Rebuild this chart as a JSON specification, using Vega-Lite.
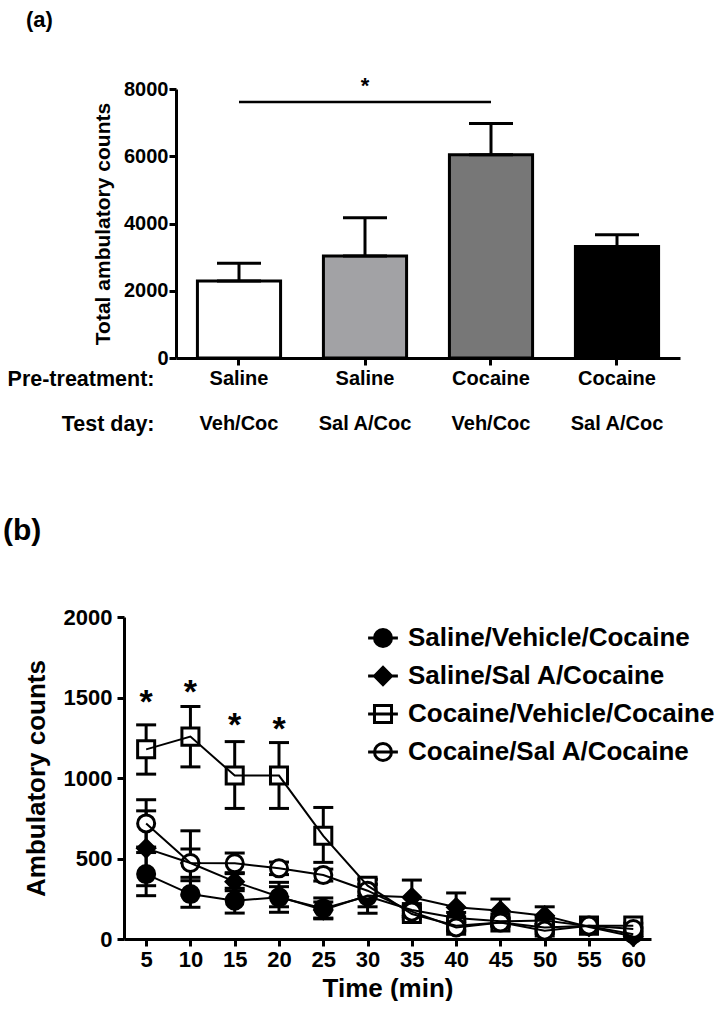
{
  "$schema": "https://vega.github.io/schema/vega-lite/v6.json",
  "background": "white",
  "padding": {"left": 3, "top": 8, "right": 0, "bottom": 0},
  "config": {
    "font": "Liberation Sans",
    "view": {"stroke": null},
    "axis": {"labelFont": "Liberation Sans", "titleFont": "Liberation Sans", "labelFontWeight": "bold", "titleFontWeight": "bold", "labelColor": "black", "titleColor": "black", "domainColor": "black", "tickColor": "black", "domainWidth": 3, "tickWidth": 3, "tickSize": 7, "grid": false},
    "legend": {"labelFont": "Liberation Sans"},
    "text": {"font": "Liberation Sans"}
  },
  "datasets": {
    "bars": [
      {"group": "Saline|Veh/Coc", "mean": 2290, "hi": 2820},
      {"group": "Saline|Sal A/Coc", "mean": 3031, "hi": 4174},
      {"group": "Cocaine|Veh/Coc", "mean": 6042, "hi": 6976},
      {"group": "Cocaine|Sal A/Coc", "mean": 3319, "hi": 3667}
    ],
    "sig": [
      {"from": "Saline|Veh/Coc", "to": "Cocaine|Veh/Coc", "level": 7612, "mid": "Saline|Sal A/Coc", "star": 8250, "label": "*"}
    ],
    "series": [
      {"series": "Saline/Vehicle/Cocaine", "time": 5, "mean": 403, "lo": 269, "hi": 537},
      {"series": "Saline/Vehicle/Cocaine", "time": 10, "mean": 279, "lo": 197, "hi": 362},
      {"series": "Saline/Vehicle/Cocaine", "time": 15, "mean": 238, "lo": 161, "hi": 315},
      {"series": "Saline/Vehicle/Cocaine", "time": 20, "mean": 259, "lo": 166, "hi": 352},
      {"series": "Saline/Vehicle/Cocaine", "time": 25, "mean": 190, "lo": 125, "hi": 255},
      {"series": "Saline/Vehicle/Cocaine", "time": 30, "mean": 265, "lo": 160, "hi": 370},
      {"series": "Saline/Vehicle/Cocaine", "time": 35, "mean": 180, "lo": 140, "hi": 220},
      {"series": "Saline/Vehicle/Cocaine", "time": 40, "mean": 130, "lo": 95, "hi": 165},
      {"series": "Saline/Vehicle/Cocaine", "time": 45, "mean": 110, "lo": 85, "hi": 135},
      {"series": "Saline/Vehicle/Cocaine", "time": 50, "mean": 115, "lo": 90, "hi": 140},
      {"series": "Saline/Vehicle/Cocaine", "time": 55, "mean": 80, "lo": 65, "hi": 95},
      {"series": "Saline/Vehicle/Cocaine", "time": 60, "mean": 30, "lo": 15, "hi": 45},
      {"series": "Saline/Sal A/Cocaine", "time": 5, "mean": 563, "lo": 331, "hi": 796},
      {"series": "Saline/Sal A/Cocaine", "time": 10, "mean": 472, "lo": 272, "hi": 672},
      {"series": "Saline/Sal A/Cocaine", "time": 15, "mean": 356, "lo": 300, "hi": 412},
      {"series": "Saline/Sal A/Cocaine", "time": 20, "mean": 262, "lo": 200, "hi": 325},
      {"series": "Saline/Sal A/Cocaine", "time": 25, "mean": 180, "lo": 130, "hi": 230},
      {"series": "Saline/Sal A/Cocaine", "time": 30, "mean": 270, "lo": 200, "hi": 340},
      {"series": "Saline/Sal A/Cocaine", "time": 35, "mean": 259, "lo": 152, "hi": 366},
      {"series": "Saline/Sal A/Cocaine", "time": 40, "mean": 197, "lo": 108, "hi": 286},
      {"series": "Saline/Sal A/Cocaine", "time": 45, "mean": 176, "lo": 104, "hi": 248},
      {"series": "Saline/Sal A/Cocaine", "time": 50, "mean": 145, "lo": 90, "hi": 200},
      {"series": "Saline/Sal A/Cocaine", "time": 55, "mean": 75, "lo": 55, "hi": 95},
      {"series": "Saline/Sal A/Cocaine", "time": 60, "mean": 15, "lo": 0, "hi": 30},
      {"series": "Cocaine/Vehicle/Cocaine", "time": 5, "mean": 1178, "lo": 1024, "hi": 1330},
      {"series": "Cocaine/Vehicle/Cocaine", "time": 10, "mean": 1257, "lo": 1069, "hi": 1444},
      {"series": "Cocaine/Vehicle/Cocaine", "time": 15, "mean": 1015, "lo": 811, "hi": 1226},
      {"series": "Cocaine/Vehicle/Cocaine", "time": 20, "mean": 1015, "lo": 811, "hi": 1220},
      {"series": "Cocaine/Vehicle/Cocaine", "time": 25, "mean": 641, "lo": 476, "hi": 817},
      {"series": "Cocaine/Vehicle/Cocaine", "time": 30, "mean": 331, "lo": 290, "hi": 372},
      {"series": "Cocaine/Vehicle/Cocaine", "time": 35, "mean": 155, "lo": 125, "hi": 185},
      {"series": "Cocaine/Vehicle/Cocaine", "time": 40, "mean": 83, "lo": 55, "hi": 111},
      {"series": "Cocaine/Vehicle/Cocaine", "time": 45, "mean": 103, "lo": 80, "hi": 126},
      {"series": "Cocaine/Vehicle/Cocaine", "time": 50, "mean": 72, "lo": 52, "hi": 92},
      {"series": "Cocaine/Vehicle/Cocaine", "time": 55, "mean": 83, "lo": 68, "hi": 98},
      {"series": "Cocaine/Vehicle/Cocaine", "time": 60, "mean": 83, "lo": 68, "hi": 98},
      {"series": "Cocaine/Sal A/Cocaine", "time": 5, "mean": 718, "lo": 571, "hi": 865},
      {"series": "Cocaine/Sal A/Cocaine", "time": 10, "mean": 472, "lo": 383, "hi": 559},
      {"series": "Cocaine/Sal A/Cocaine", "time": 15, "mean": 470, "lo": 406, "hi": 534},
      {"series": "Cocaine/Sal A/Cocaine", "time": 20, "mean": 439, "lo": 400, "hi": 478},
      {"series": "Cocaine/Sal A/Cocaine", "time": 25, "mean": 397, "lo": 360, "hi": 434},
      {"series": "Cocaine/Sal A/Cocaine", "time": 30, "mean": 300, "lo": 260, "hi": 340},
      {"series": "Cocaine/Sal A/Cocaine", "time": 35, "mean": 170, "lo": 140, "hi": 200},
      {"series": "Cocaine/Sal A/Cocaine", "time": 40, "mean": 72, "lo": 50, "hi": 94},
      {"series": "Cocaine/Sal A/Cocaine", "time": 45, "mean": 103, "lo": 80, "hi": 126},
      {"series": "Cocaine/Sal A/Cocaine", "time": 50, "mean": 52, "lo": 35, "hi": 69},
      {"series": "Cocaine/Sal A/Cocaine", "time": 55, "mean": 83, "lo": 70, "hi": 96},
      {"series": "Cocaine/Sal A/Cocaine", "time": 60, "mean": 62, "lo": 50, "hi": 74}
    ],
    "stars": [
      {"time": 5, "value": 1521, "label": "*"},
      {"time": 10, "value": 1583, "label": "*"},
      {"time": 15, "value": 1376, "label": "*"},
      {"time": 20, "value": 1355, "label": "*"}
    ]
  },
  "vconcat": [
    {
      "width": 556,
      "height": 269,
      "title": {"text": "(a)", "anchor": "start", "frame": "group", "dx": -98, "offset": 43, "fontSize": 22, "fontWeight": "bold", "font": "Liberation Sans", "color": "black"},
      "layer": [
        {
          "data": {"name": "bars"},
          "mark": {"type": "bar", "stroke": "black", "strokeWidth": 3},
          "encoding": {
            "x": {"field": "group", "type": "nominal", "sort": null,
              "scale": {"domain": ["Saline|Veh/Coc", "Saline|Sal A/Coc", "Cocaine|Veh/Coc", "Cocaine|Sal A/Coc"], "range": [52, 556], "paddingInner": 0.34, "paddingOuter": 0.17},
              "axis": {"labelExpr": "split(datum.value, '|')", "labelAngle": 0, "labelFontSize": 20, "labelLineHeight": 45, "labelPadding": 3, "labelBaseline": "top",
                "title": ["Pre-treatment:", "Test day:"], "titleFontSize": 21.5, "titleLineHeight": 45, "titleAlign": "right", "titleBaseline": "top", "titleX": 30, "titleY": 10, "titleAngle": 0}},
            "y": {"field": "mean", "type": "quantitative", "scale": {"domain": [0, 8000], "nice": false},
              "axis": {"values": [0, 2000, 4000, 6000, 8000], "format": "d", "offset": -52, "labelFontSize": 20, "labelPadding": 1, "title": "Total ambulatory counts", "titleFontSize": 21, "titlePadding": 10}},
            "fill": {"field": "group", "type": "nominal", "sort": null, "scale": {"domain": ["Saline|Veh/Coc", "Saline|Sal A/Coc", "Cocaine|Veh/Coc", "Cocaine|Sal A/Coc"], "range": ["white", "#a2a2a5", "#777777", "black"]}, "legend": null}
          }
        },
        {
          "data": {"name": "bars"},
          "mark": {"type": "errorbar", "color": "black", "opacity": 1, "ticks": {"size": 44, "thickness": 3, "color": "black", "opacity": 1}, "rule": {"strokeWidth": 3, "color": "black", "opacity": 1}},
          "encoding": {
            "x": {"field": "group", "type": "nominal", "sort": null},
            "y": {"field": "mean", "type": "quantitative", "title": "Total ambulatory counts"},
            "y2": {"field": "hi"}
          }
        },
        {
          "data": {"name": "sig"},
          "mark": {"type": "rule", "color": "black", "strokeWidth": 2.5},
          "encoding": {
            "x": {"field": "from", "type": "nominal", "sort": null},
            "x2": {"field": "to"},
            "y": {"field": "level", "type": "quantitative", "title": "Total ambulatory counts"}
          }
        },
        {
          "data": {"name": "sig"},
          "mark": {"type": "text", "fontSize": 22, "fontWeight": "bold", "color": "black", "baseline": "alphabetic", "dy": 12},
          "encoding": {
            "x": {"field": "mid", "type": "nominal", "sort": null},
            "y": {"field": "star", "type": "quantitative", "title": "Total ambulatory counts"},
            "text": {"field": "label"}
          }
        }
      ]
    },
    {
      "width": 527,
      "height": 322,
      "title": {"text": "(b)", "anchor": "start", "frame": "group", "dx": -121, "offset": 60, "fontSize": 30, "fontWeight": "bold", "font": "Liberation Sans", "color": "black"},
      "data": {"name": "series"},
      "layer": [
        {
          "mark": {"type": "errorbar", "color": "black", "opacity": 1, "ticks": {"size": 20, "thickness": 3, "color": "black", "opacity": 1}, "rule": {"strokeWidth": 3, "color": "black", "opacity": 1}},
          "encoding": {
            "x": {"field": "time", "type": "quantitative", "scale": {"domain": [2.5, 62], "nice": false, "zero": false},
              "axis": {"values": [5, 10, 15, 20, 25, 30, 35, 40, 45, 50, 55, 60], "labelFontSize": 22, "labelPadding": 3, "title": "Time (min)", "titleFontSize": 26, "titlePadding": 5}},
            "y": {"field": "lo", "type": "quantitative", "scale": {"domain": [0, 2000], "nice": false},
              "axis": {"values": [0, 500, 1000, 1500, 2000], "format": "d", "labelFontSize": 22, "labelPadding": 5, "title": "Ambulatory counts", "titleFontSize": 26, "titlePadding": 14}},
            "y2": {"field": "hi"},
            "detail": {"field": "series"}
          }
        },
        {
          "mark": {"type": "point", "stroke": "black", "strokeWidth": 3, "size": 290, "opacity": 1, "fillOpacity": 1, "strokeOpacity": 1},
          "encoding": {
            "x": {"field": "time", "type": "quantitative"},
            "y": {"field": "mean", "type": "quantitative", "title": "Ambulatory counts"},
            "shape": {"field": "series", "type": "nominal", "sort": null,
              "scale": {"domain": ["Saline/Sal A/Cocaine", "Saline/Vehicle/Cocaine", "Cocaine/Sal A/Cocaine", "Cocaine/Vehicle/Cocaine"], "range": ["diamond", "circle", "circle", "square"]},
              "legend": null},
            "fill": {"field": "series", "type": "nominal", "sort": null,
              "scale": {"domain": ["Saline/Vehicle/Cocaine", "Saline/Sal A/Cocaine", "Cocaine/Vehicle/Cocaine", "Cocaine/Sal A/Cocaine"], "range": ["black", "black", "white", "white"]},
              "legend": {"title": null, "orient": "none", "legendX": 246, "legendY": 8, "padding": 0, "labelFontSize": 26, "labelFontWeight": "bold", "labelColor": "black", "labelLimit": 500, "labelOffset": 12, "rowPadding": 8, "symbolSize": 290, "symbolStrokeWidth": 3, "symbolStrokeColor": "black", "symbolOpacity": 1,
                "encode": {"symbols": {"update": {"shape": {"signal": "datum.value === 'Saline/Sal A/Cocaine' ? 'M-1.75,0L1.75,0M-1,0L0,-1L1,0L0,1Z' : datum.value === 'Cocaine/Vehicle/Cocaine' ? 'M-1.75,0L1.75,0M-1,-1L1,-1L1,1L-1,1Z' : 'M-1.75,0L1.75,0M1,0A1,1,0,1,1,-1,0A1,1,0,1,1,1,0Z'"}, "stroke": {"value": "black"}, "strokeWidth": {"value": 3}}}}}}
          }
        },
        {
          "mark": {"type": "line", "color": "black", "strokeWidth": 2},
          "encoding": {
            "x": {"field": "time", "type": "quantitative"},
            "y": {"field": "mean", "type": "quantitative", "title": "Ambulatory counts"},
            "detail": {"field": "series"}
          }
        },
        {
          "data": {"name": "stars"},
          "mark": {"type": "text", "fontSize": 34, "fontWeight": "bold", "color": "black", "baseline": "alphabetic", "dy": 19},
          "encoding": {
            "x": {"field": "time", "type": "quantitative"},
            "y": {"field": "value", "type": "quantitative", "title": "Ambulatory counts"},
            "text": {"field": "label"}
          }
        }
      ]
    }
  ],
  "resolve": {"scale": {"fill": "independent", "shape": "independent"}, "legend": {"fill": "independent", "shape": "independent"}},
  "spacing": 81
}
